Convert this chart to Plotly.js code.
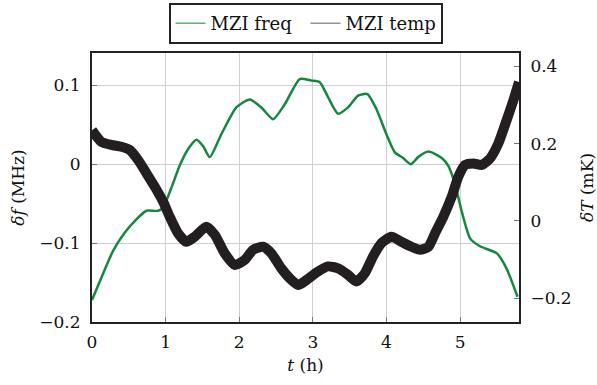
<!DOCTYPE html>
<html>
<head>
<meta charset="utf-8">
<script src="https://cdn.plot.ly/plotly-3.0.1.min.js"></script>
<style>html,body{margin:0;padding:0;background:#fff;}#chart{width:597px;height:385px;}</style>
</head>
<body>
<div id="chart"></div>
<script>
// MZI frequency (left axis, MHz) vs time (h)
const freqTime = [0, 0.127, 0.285, 0.444, 0.602, 0.738, 0.897, 0.965, 1.078, 1.19, 1.304, 1.42, 1.508, 1.60, 1.757, 1.961, 2.143, 2.30, 2.459, 2.618, 2.822, 2.98, 3.094, 3.207, 3.342, 3.478, 3.614, 3.741, 3.863, 3.999, 4.113, 4.226, 4.33, 4.43, 4.57, 4.75, 4.84, 4.93, 5.02, 5.136, 5.27, 5.50, 5.63, 5.78];
const freqVals = [-0.172, -0.144, -0.110, -0.087, -0.070, -0.059, -0.059, -0.055, -0.030, -0.002, 0.019, 0.031, 0.023, 0.009, 0.038, 0.072, 0.082, 0.072, 0.057, 0.076, 0.108, 0.106, 0.104, 0.085, 0.064, 0.072, 0.087, 0.089, 0.070, 0.038, 0.015, 0.008, 0.000, 0.009, 0.016, 0.008, -0.002, -0.025, -0.059, -0.094, -0.104, -0.113, -0.132, -0.168];

// MZI temperature (right axis, mK) vs time (h)
const tempTime = [0, 0.127, 0.262, 0.398, 0.512, 0.625, 0.738, 0.851, 0.965, 1.055, 1.168, 1.281, 1.395, 1.553, 1.667, 1.803, 1.939, 2.075, 2.188, 2.323, 2.436, 2.572, 2.708, 2.80, 2.90, 3.07, 3.207, 3.342, 3.478, 3.59, 3.705, 3.818, 3.93, 4.067, 4.20, 4.338, 4.457, 4.57, 4.66, 4.773, 4.887, 4.977, 5.068, 5.18, 5.295, 5.408, 5.52, 5.634, 5.725, 5.80];
const tempVals = [0.235, 0.205, 0.197, 0.192, 0.184, 0.158, 0.124, 0.089, 0.050, 0.011, -0.032, -0.054, -0.041, -0.015, -0.036, -0.084, -0.114, -0.101, -0.075, -0.067, -0.084, -0.123, -0.153, -0.166, -0.155, -0.131, -0.118, -0.123, -0.140, -0.157, -0.136, -0.092, -0.058, -0.041, -0.054, -0.067, -0.075, -0.067, -0.032, 0.011, 0.063, 0.115, 0.145, 0.149, 0.145, 0.162, 0.201, 0.262, 0.313, 0.360];

const xTicks = [0, 1, 2, 3, 4, 5];
const yLeftTicks = [-0.2, -0.1, 0, 0.1];
const yRightTicks = [-0.2, 0, 0.2, 0.4];
const seriesNames = ['MZI freq', 'MZI temp'];

const GREEN = 'rgb(22,135,62)';
const BLACK = 'rgb(35,31,32)';
const FONT = 'DejaVu Serif';
const FS = 17;

const traces = [
  {x: freqTime, y: freqVals, type: 'scatter', mode: 'lines', line: {color: GREEN, width: 2.5, shape: 'spline', smoothing: 0.6}, showlegend: false, hoverinfo: 'skip'},
  {x: tempTime, y: tempVals, type: 'scatter', mode: 'lines', yaxis: 'y2', line: {color: BLACK, width: 10, shape: 'spline', smoothing: 0.6}, showlegend: false, hoverinfo: 'skip'},
  {x: [null], y: [null], type: 'scatter', mode: 'lines', name: seriesNames[0], line: {color: GREEN, width: 1}},
  {x: [null], y: [null], type: 'scatter', mode: 'lines', name: seriesNames[1], line: {color: '#333', width: 0.8}}
];

const axisCommon = {
  showline: true, linecolor: '#222', linewidth: 2,
  ticks: 'inside', ticklen: 5, tickwidth: 1, tickcolor: '#777',
  zeroline: false, tickfont: {family: FONT, size: FS, color: '#111'}
};

const layout = {
  width: 597, height: 385,
  margin: {l: 92, r: 78, t: 53, b: 63, autoexpand: false},
  paper_bgcolor: '#fff', plot_bgcolor: '#fff',
  font: {family: FONT, size: FS, color: '#111'},
  xaxis: Object.assign({}, axisCommon, {
    range: [0, 5.8], tickvals: xTicks, ticktext: xTicks.map(String),
    showgrid: true, gridcolor: '#cfcfcf', gridwidth: 1, mirror: true,
    ticklabelstandoff: 4,
    title: {text: '<i>t</i> (h)', font: {family: FONT, size: FS}, standoff: 8}
  }),
  yaxis: Object.assign({}, axisCommon, {
    range: [-0.2, 0.141], tickvals: yLeftTicks, ticktext: ['−0.2', '−0.1', '0', '0.1'],
    showgrid: true, gridcolor: '#cfcfcf', gridwidth: 1,
    ticklabelstandoff: 6,
    title: {text: '<i>δf</i> (MHz)', font: {family: FONT, size: FS}, standoff: 10}
  }),
  yaxis2: Object.assign({}, axisCommon, {
    overlaying: 'y', side: 'right',
    range: [-0.262, 0.435], tickvals: yRightTicks, ticktext: ['−0.2', '0', '0.2', '0.4'],
    showgrid: false, ticklabelstandoff: 6,
    title: {text: '<i>δT</i> (mK)', font: {family: FONT, size: FS}, standoff: 12}
  }),
  legend: {
    orientation: 'h', x: 0.5, xanchor: 'center', y: 1.186, yanchor: 'top',
    bordercolor: '#222', borderwidth: 2, bgcolor: '#fff',
    font: {family: FONT, size: 18, color: '#111'},
    entrywidth: 90, entrywidthmode: 'pixels', itemclick: false, itemdoubleclick: false
  },
  showlegend: true
};

Plotly.newPlot('chart', traces, layout, {displayModeBar: false, staticPlot: true});
</script>
</body>
</html>
